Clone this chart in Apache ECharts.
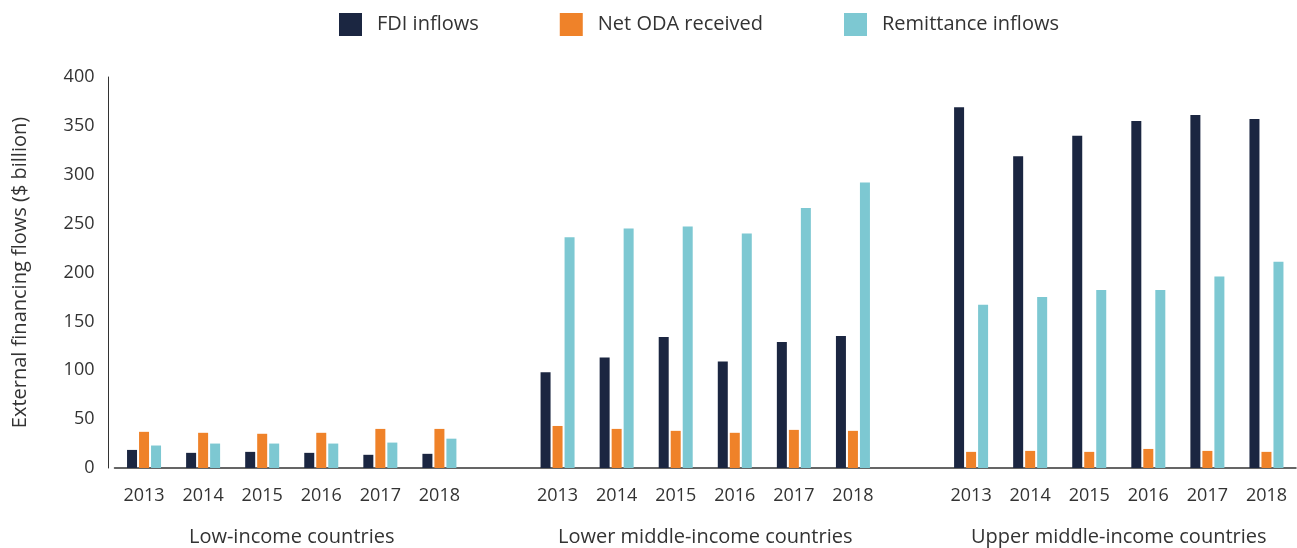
<!DOCTYPE html>
<html lang="en">
<head>
    <meta charset="UTF-8">
    <title>External financing flows</title>
    <script src="https://cdn.jsdelivr.net/npm/echarts@6/dist/echarts.min.js"></script>
    <style>
        html, body { margin: 0; padding: 0; background: #fff; }
        #main { width: 1297px; height: 548px; }
    </style>
</head>
<body>
<div id="main"></div>
<script>
    // data ($ billion)
    var years = ['2013', '2014', '2015', '2016', '2017', '2018'];
    var groups = ['Low-income countries', 'Lower middle-income countries', 'Upper middle-income countries'];
    var seriesNames = ['FDI inflows', 'Net ODA received', 'Remittance inflows'];

    var fdiLow = [18.5, 15.5, 16.5, 15.5, 13.5, 14.5];
    var odaLow = [37, 36, 35, 36, 40, 40];
    var remLow = [23, 25, 25, 25, 26, 30];

    var fdiLmi = [98, 113, 134, 109, 129, 135];
    var odaLmi = [43, 40, 38, 36, 39, 38];
    var remLmi = [236, 245, 247, 240, 266, 292];

    var fdiUmi = [369, 319, 340, 355, 361, 357];
    var odaUmi = [16.5, 17.5, 16.5, 19.5, 17.5, 16.5];
    var remUmi = [167, 175, 182, 182, 196, 211];

    var colors = ['#1b2641', '#ef8229', '#7dc8d2'];
    var textColor = '#333';
    var font = '"Open Sans", sans-serif';

    // one empty slot between the income groups
    var categories = years.concat([''], years, [''], years);
    function joinGroups(a, b, c) {
        return a.concat(['-'], b, ['-'], c);
    }
    var fdi = joinGroups(fdiLow, fdiLmi, fdiUmi);
    var oda = joinGroups(odaLow, odaLmi, odaUmi);
    var rem = joinGroups(remLow, remLmi, remUmi);

    // centre of each group on the 0..19 category scale
    var groupCentres = [2.5, 9.5, 16.5];

    var chart = echarts.init(document.getElementById('main'));

    function bar(name, data, color) {
        return {
            name: name,
            type: 'bar',
            data: data,
            barWidth: 10,
            barGap: '20%',
            itemStyle: { color: color },
            emphasis: { disabled: true }
        };
    }

    var option = {
        animation: false,
        textStyle: { fontFamily: font, color: textColor },
        legend: {
            top: 8,
            left: 334,
            itemWidth: 23,
            itemHeight: 23,
            itemGap: 81,
            icon: 'rect',
            textStyle: { fontSize: 20, color: textColor, fontFamily: font, padding: [0, 0, 0, 10] },
            data: seriesNames
        },
        grid: { left: 114.5, right: 1, top: 77, bottom: 80 },
        xAxis: [
            {
                type: 'category',
                data: categories,
                axisLine: { lineStyle: { color: '#333', width: 1.5 } },
                axisTick: { show: false },
                axisLabel: { fontSize: 18, color: textColor, margin: 19, interval: 0 }
            },
            {
                type: 'value',
                position: 'bottom',
                min: -0.5,
                max: 19.5,
                axisLine: { show: false },
                axisTick: { show: false },
                splitLine: { show: false },
                axisLabel: {
                    customValues: groupCentres,
                    fontSize: 20,
                    color: textColor,
                    margin: 59,
                    formatter: function (v) {
                        var i = groupCentres.indexOf(v);
                        return i >= 0 ? groups[i] : '';
                    }
                }
            }
        ],
        yAxis: {
            type: 'value',
            min: 0,
            max: 400,
            interval: 50,
            offset: 6,
            name: 'External financing flows ($ billion)',
            nameLocation: 'middle',
            nameGap: 78,
            nameTextStyle: { fontSize: 20, color: textColor },
            axisLine: { show: true, onZero: false, lineStyle: { color: '#333', width: 1 } },
            axisTick: { show: false },
            splitLine: { show: false },
            axisLabel: { fontSize: 18, color: textColor, margin: 14 }
        },
        series: [
            bar(seriesNames[0], fdi, colors[0]),
            bar(seriesNames[1], oda, colors[1]),
            bar(seriesNames[2], rem, colors[2])
        ]
    };

    chart.setOption(option);
</script>
</body>
</html>
